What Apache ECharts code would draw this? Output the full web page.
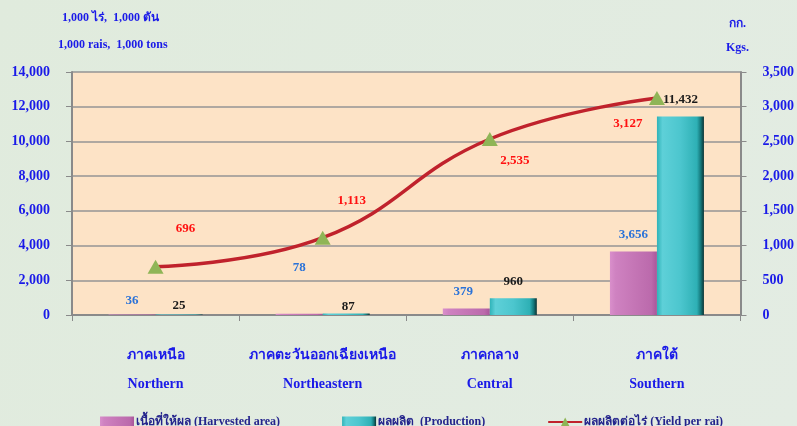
<!DOCTYPE html>
<html>
<head>
<meta charset="utf-8">
<script src="https://cdn.jsdelivr.net/npm/echarts@6/dist/echarts.min.js"></script>
<style>
html,body{margin:0;padding:0;background:#e1ebdf;}
#c{width:797px;height:426px;}
</style>
</head>
<body>
<div id="c"></div>
<script>
var categoriesTh = ['ภาคเหนือ', 'ภาคตะวันออกเฉียงเหนือ', 'ภาคกลาง', 'ภาคใต้'];
var categoriesEn = ['Northern', 'Northeastern', 'Central', 'Southern'];
var harvestedArea = [36, 78, 379, 3656];
var production = [25, 87, 960, 11432];
var yieldPerRai = [696, 1113, 2535, 3127];
var leftTicks = [0, 14000, 2000];
var rightTicks = [0, 3500, 500];
var seriesNames = ['เนื้อที่ให้ผล (Harvested area)', 'ผลผลิต  (Production)', 'ผลผลิตต่อไร่ (Yield per rai)'];

var SERIF = "'Liberation Serif','Times New Roman',serif";
var BLUE = '#1a1ae8';
var chart = echarts.init(document.getElementById('c'), null, {renderer: 'canvas'});

function fmt(v) { return v.toLocaleString('en-US'); }

var areaNudge = [[0, 3], [0, -30], [-3, 0], [0, 0]];
var prodNudge = [[0, 8], [2, 10], [0, 0], [0, 0]];
var yieldNudge = [[30, -38], [29, -37], [25, 22], [-29, 26]];

var option = {
  backgroundColor: new echarts.graphic.LinearGradient(0, 0, 1, 1, [
    {offset: 0, color: '#e0ebdd'}, {offset: 1, color: '#e3ece3'}
  ]),
  animation: false,
  grid: {left: 72, right: 56, top: 72, bottom: 111, show: true, backgroundColor: '#fde3c6', borderWidth: 0},
  graphic: [
    {type: 'text', left: 62, top: 12, style: {text: '1,000 ไร่,  1,000 ตัน', font: 'bold 12px ' + SERIF, fill: BLUE}},
    {type: 'text', left: 58, top: 39, style: {text: '1,000 rais,  1,000 tons', font: 'bold 12px ' + SERIF, fill: BLUE}},
    {type: 'text', left: 729, top: 18, style: {text: 'กก.', font: 'bold 12px ' + SERIF, fill: BLUE}},
    {type: 'text', left: 726, top: 42, style: {text: 'Kgs.', font: 'bold 12px ' + SERIF, fill: BLUE}}
  ],
  legend: {
    left: 95, top: 411, itemWidth: 34, itemHeight: 11, itemGap: 62,
    textStyle: {fontFamily: SERIF, fontWeight: 'bold', fontSize: 12, color: '#24248c', padding: [0, 0, 0, -3]},
    data: [
      {name: seriesNames[0], icon: 'rect'},
      {name: seriesNames[1], icon: 'rect'},
      {name: seriesNames[2]}
    ]
  },
  xAxis: {
    type: 'category',
    data: categoriesEn.map(function (e, i) { return categoriesTh[i] + '\n' + e; }),
    axisLine: {lineStyle: {color: '#8a8a8a', width: 2}},
    axisTick: {show: true, length: 6, lineStyle: {color: '#8a8a8a'}},
    axisLabel: {
      margin: 26, interval: 0,
      formatter: function (v) { var p = v.split('\n'); return '{th|' + p[0] + '}\n{en|' + p[1] + '}'; },
      rich: {
        th: {fontFamily: SERIF, fontWeight: 'bold', fontSize: 14, color: BLUE, lineHeight: 29},
        en: {fontFamily: SERIF, fontWeight: 'bold', fontSize: 14, color: BLUE, lineHeight: 29}
      }
    }
  },
  yAxis: [
    {
      type: 'value', min: leftTicks[0], max: leftTicks[1], interval: leftTicks[2],
      axisLine: {show: true, lineStyle: {color: '#8a8a8a', width: 2}},
      axisTick: {show: true, length: 6, lineStyle: {color: '#8a8a8a'}},
      splitLine: {lineStyle: {color: '#949494', width: 1.5}},
      axisLabel: {margin: 22, formatter: fmt, fontFamily: SERIF, fontWeight: 'bold', fontSize: 14, color: BLUE}
    },
    {
      type: 'value', min: rightTicks[0], max: rightTicks[1], interval: rightTicks[2],
      axisLine: {show: true, lineStyle: {color: '#8a8a8a', width: 2}},
      axisTick: {show: true, length: 6, lineStyle: {color: '#8a8a8a'}},
      splitLine: {show: false},
      axisLabel: {margin: 22, formatter: fmt, fontFamily: SERIF, fontWeight: 'bold', fontSize: 14, color: BLUE}
    }
  ],
  series: [
    {
      name: seriesNames[0], type: 'bar', barWidth: 47, barGap: '0%',
      itemStyle: {
        color: new echarts.graphic.LinearGradient(0, 0, 1, 0, [
          {offset: 0, color: '#d98fcb'}, {offset: 0.12, color: '#cf82c1'},
          {offset: 0.5, color: '#c576b6'}, {offset: 0.88, color: '#bb6aac'}, {offset: 1, color: '#a9569a'}
        ])
      },
      data: harvestedArea.map(function (v, i) {
        return {value: v, label: {offset: areaNudge[i]}};
      }),
      label: {show: true, position: 'top', distance: 10, formatter: function (p) { return fmt(p.value); },
        fontFamily: SERIF, fontWeight: 'bold', fontSize: 13, color: '#2a72d8'}
    },
    {
      name: seriesNames[1], type: 'bar', barWidth: 47,
      itemStyle: {
        color: new echarts.graphic.LinearGradient(0, 0, 1, 0, [
          {offset: 0, color: '#2fb3b8'}, {offset: 0.12, color: '#5ed0d8'},
          {offset: 0.5, color: '#4cc6ce'}, {offset: 0.85, color: '#2eb0b5'},
          {offset: 0.93, color: '#15797c'}, {offset: 1, color: '#0b3434'}
        ])
      },
      data: production.map(function (v, i) {
        return {value: v, label: {offset: prodNudge[i]}};
      }),
      label: {show: true, position: 'top', distance: 10, formatter: function (p) { return fmt(p.value); },
        fontFamily: SERIF, fontWeight: 'bold', fontSize: 13, color: '#1a1a1a'}
    },
    {
      name: seriesNames[2], type: 'line', yAxisIndex: 1, smooth: 0.45,
      symbol: 'triangle', symbolSize: [16, 14],
      lineStyle: {color: '#c0222c', width: 3.5},
      itemStyle: {color: '#8fb556'},
      data: yieldPerRai.map(function (v, i) {
        return {value: v, label: {offset: yieldNudge[i]}};
      }),
      label: {show: true, position: 'inside', formatter: function (p) { return fmt(p.value); },
        fontFamily: SERIF, fontWeight: 'bold', fontSize: 13, color: '#ff1010'},
      z: 5
    }
  ]
};
chart.setOption(option);
</script>
</body>
</html>
